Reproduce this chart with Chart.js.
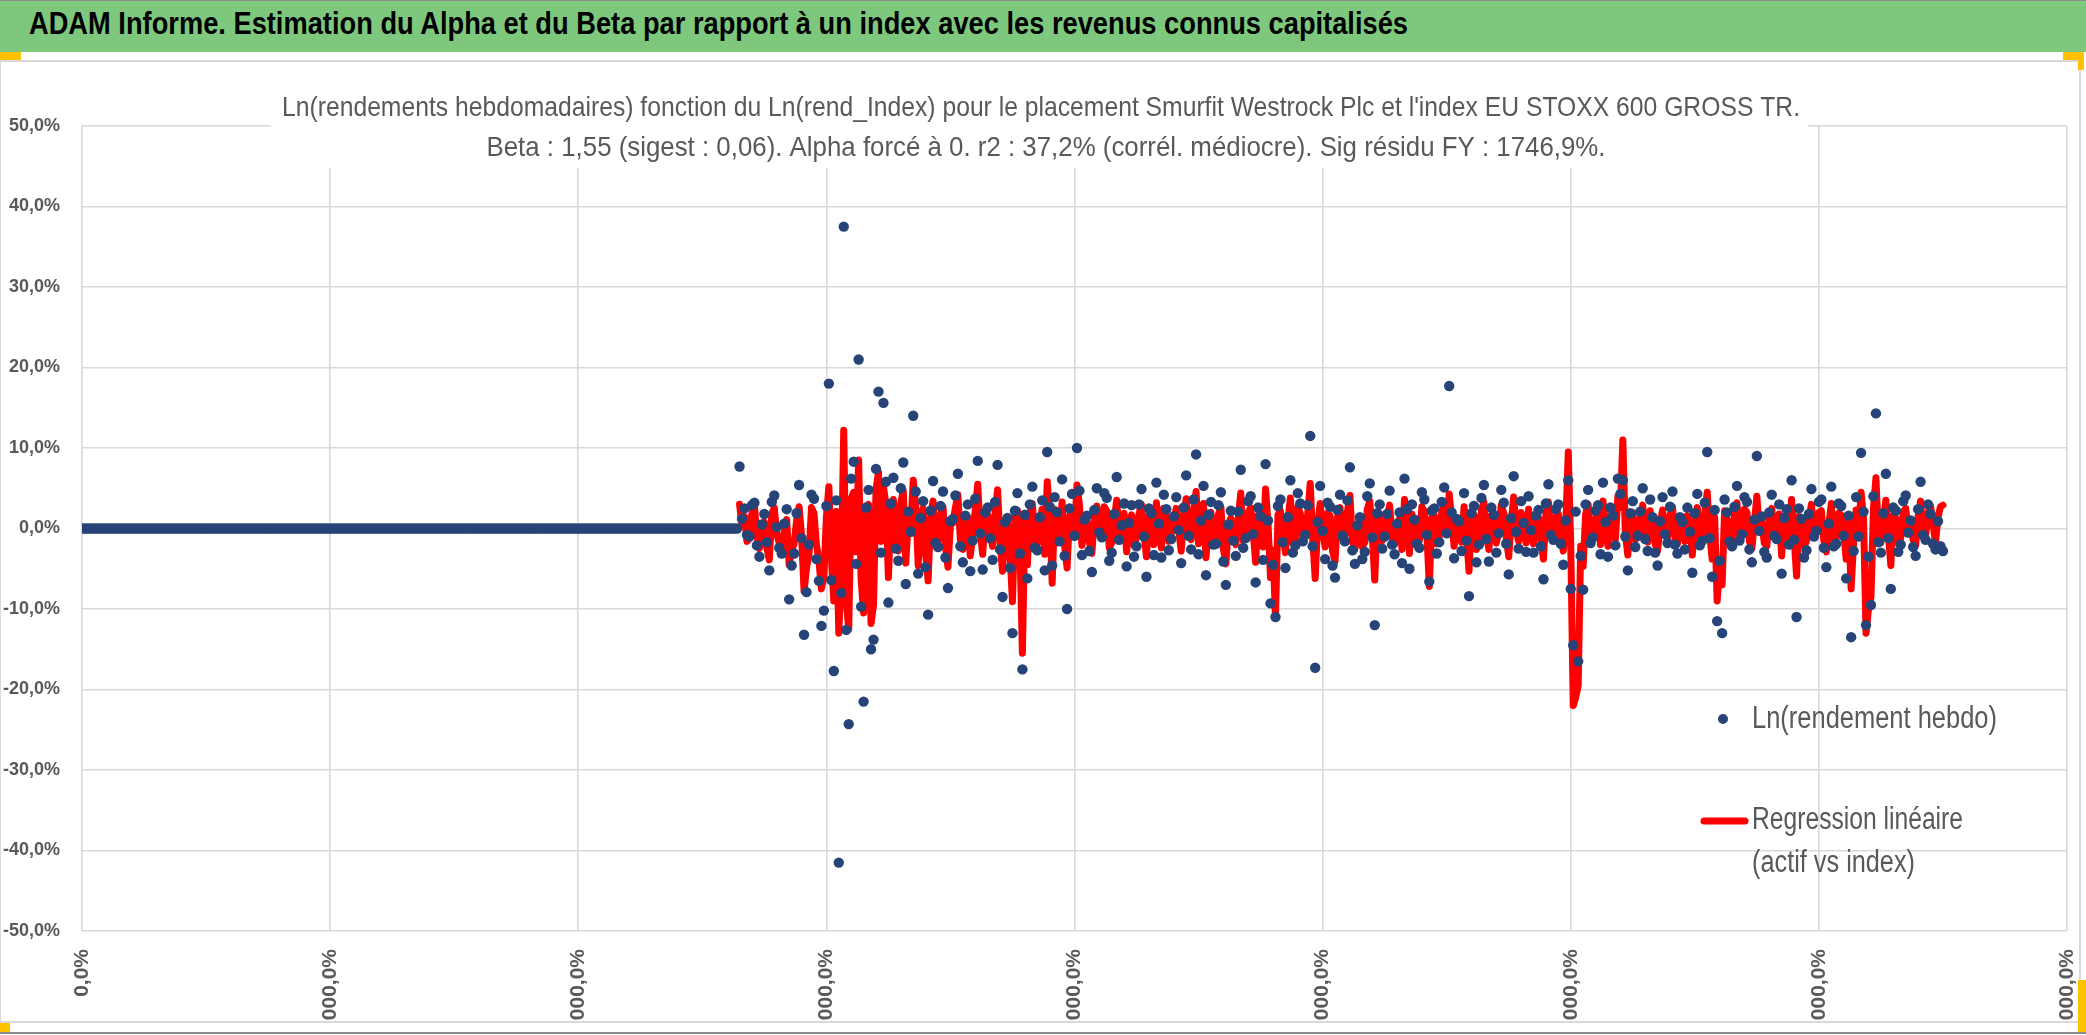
<!DOCTYPE html>
<html>
<head>
<meta charset="utf-8">
<script src="https://cdn.jsdelivr.net/npm/chart.js@4.4.0/dist/chart.umd.min.js"></script>
<style>
html, body { margin: 0; padding: 0; background: #fff; width: 2086px; height: 1035px; overflow: hidden; position: relative; }
#bandeau { position: absolute; left: 0; top: 0; width: 2086px; height: 52px; background: #7dc87d; border-top: 1px solid #8c8c8c; box-sizing: border-box; }
#bandeau span { position: absolute; left: 29px; top: 5px; font: bold 31px "Liberation Sans", sans-serif; color: #000; transform-origin: 0 0; white-space: nowrap; }
#cadre { position: absolute; left: 0; top: 60px; width: 2081px; height: 963px; border: 2px solid #d9d9d9; border-left-width: 1px; box-sizing: border-box; }
#bas { position: absolute; left: 0; top: 1032px; width: 2086px; height: 2px; background: #8c8c8c; }
#graphe { position: absolute; left: 0; top: 62px; }
.poignee { position: absolute; background: #ffc000; }
</style>
</head>
<body>
<div id="bandeau"><span id="titreBandeau">ADAM Informe. Estimation du Alpha et du Beta par rapport à un index avec les revenus connus capitalisés</span></div>
<div id="cadre"></div>
<div id="bas"></div>
<div class="poignee" style="left:0;top:52px;width:21px;height:8px"></div>
<div class="poignee" style="left:2063px;top:52px;width:21px;height:8px"></div>
<div class="poignee" style="left:2078px;top:52px;width:6px;height:18px"></div>
<div class="poignee" style="left:0;top:1023px;width:10px;height:9px"></div>
<div class="poignee" style="left:2078px;top:980px;width:8px;height:52px"></div>
<canvas id="graphe" width="2078" height="958"></canvas>
<script>
// semaines sans cotation (rendement nul)
const semainesVides = [
  0,0,0,0,0,0,0,0,0,0,0,0,0,0,0,0,0,0,0,0,
  0,0,0,0,0,0,0,0,0,0,0,0,0,0,0,0,0,0,0,0,
  0,0,0,0,0,0,0,0,0,0,0,0,0,0,0,0,0,0,0,0,
  0,0,0,0,0,0,0,0,0,0,0,0,0,0,0,0,0,0,0,0,
  0,0,0,0,0,0,0,0,0,0,0,0,0,0,0,0,0,0,0,0,
  0,0,0,0,0,0,0,0,0,0,0,0,0,0,0,0,0,0,0,0,
  0,0,0,0,0,0,0,0,0,0,0,0,0,0,0,0,0,0,0,0,
  0,0,0,0,0,0,0,0,0,0,0,0,0,0,0,0,0,0,0,0,
  0,0,0,0,0,0,0,0,0,0,0,0,0,0,0,0,0,0,0,0,
  0,0,0,0,0,0,0,0,0,0,0,0,0,0,0,0,0,0,0,0,
  0,0,0,0,0,0,0,0,0,0,0,0,0,0,0,0,0,0,0,0,
  0,0,0,0,0,0,0,0,0,0,0,0,0,0,0,0,0,0,0,0,
  0,0,0,0,0,0,0,0,0,0,0,0,0,0,0,0,0,0,0,0,
  0,0,0,0,0
];

// Ln(rendement hebdo) en %
const lnRendement = [
  7.7,1.2, 2.5,-0.8, -1.0,2.9, 3.2,-2.1, -3.5,0.5, 1.8,-1.7, -5.2,3.3, 4.1,0.2, -2.4,-3.1, 0.6,2.4,
  -8.8,-4.6, -3.1,1.9, 5.4,-1.2, -13.2,-7.9, -2.0,4.2, 3.7,-3.8, -6.5,-12.1, -10.2,2.8, 18.0,-6.4, -17.7,3.5,
  -41.5,-8.0, 37.5,-12.6, -24.3,6.2, 8.3,-4.4, 21.0,-9.7, -21.5,2.6, 4.8,-15.0, -13.8,7.4, 17.0,-3.0, 15.6,5.8,
  -9.2,3.1, 6.3,-2.5, -4.0,5.0, 8.2,-6.9, 2.1,-0.4, 14.0,4.6, -5.6,1.3, 3.4,-4.8, -10.7,2.2, 5.9,-1.8,
  -2.3,2.8, 4.6,-3.6, -7.4,0.9, 1.2,4.1, 6.8,-2.2, -4.2,1.6, 3.0,-5.3, -1.5,3.7, 8.4,-0.6, -5.1,2.0,
  2.6,-1.2, -3.9,3.3, 7.9,-2.6, -8.5,0.8, 1.3,-4.9, -13.0,2.2, 4.4,-3.1, -17.5,1.7, -6.2,3.0, 5.2,-2.4,
  -2.7,1.4, 3.5,-5.2, 9.5,2.7, -4.6,3.9, 2.0,-1.6, 6.1,-3.4, -10.0,2.5, 4.3,-0.9, 10.0,4.7, -3.3,1.1,
  1.6,-2.8, -5.4,2.3, 5.0,-0.5, -1.1,4.4, 3.8,-4.0, -3.0,1.8, 6.4,-1.4, 0.4,3.1, -4.7,0.7, 2.9,-3.5,
  -2.2,3.0, 4.9,-1.0, -6.0,2.5, 1.9,-3.3, 5.7,0.6, -3.6,4.2, 2.4,-2.7, -1.3,1.5, 3.9,-0.2, -4.3,2.6,
  6.6,-0.9, -2.6,3.6, 9.2,-3.2, 1.0,5.3, -5.8,1.7, 3.3,-2.0, -1.9,2.9, 4.5,-4.1, -7.0,0.5, 2.2,-1.5,
  -3.4,2.1, 7.3,-2.4, -1.2,3.4, 4.0,-0.7, -6.7,2.6, 1.5,-3.9, 8.0,1.0, -9.3,-4.5, -11.0,2.8, 3.6,-1.7,
  -4.9,1.4, 6.0,-3.0, -2.1,4.4, 3.1,-1.6, -0.8,2.9, 11.5,-2.2, -17.3,0.8, 5.3,-0.3, -3.8,3.2, 2.7,-4.6,
  -6.1,2.3, 4.2,-0.9, -1.6,3.5, 7.6,-2.7, -4.4,0.4, 1.4,-3.8, -2.9,4.0, 5.6,-1.1, -12.0,1.9, 3.0,-2.5,
  -1.0,1.8, 4.7,-2.0, -3.2,0.6, 2.0,-4.3, 6.2,2.4, -5.0,3.0, 1.1,-1.9, -2.4,4.5, 3.6,-0.8, -6.6,2.2,
  2.5,-3.1, -1.7,3.3, 5.1,-0.6, 17.7,2.0, -3.7,1.2, 0.9,-2.8, 4.4,-1.5, -8.4,1.9, 2.8,-4.2, -2.0,3.8,
  5.4,-1.3, -4.1,2.6, 1.7,-3.0, -0.6,4.8, 3.2,-1.9, -5.7,1.3, 6.5,-0.4, -2.5,3.4, 0.7,-2.9, 4.0,-0.2,
  -3.0,1.6, 2.3,-2.2, -6.3,3.1, 5.5,-0.8, -1.4,2.4, 3.0,-1.9, -4.5,1.0, 6.0,-7.5, -14.5,2.1, -16.5,-3.4,
  -7.6,3.0, 4.8,-1.8, -1.1,2.2, 2.9,-3.2, 5.7,0.8, -3.5,2.6, 1.6,-2.1, 6.2,4.3, 6.0,-1.0, -5.2,1.9,
  3.4,-2.3, -0.9,2.1, 5.0,-1.3, -2.8,3.6, 1.4,-3.0, -4.6,0.9, 3.9,-0.7, -1.8,2.7, 4.6,-2.0, -3.1,1.4,
  0.8,-2.6, 2.6,-0.4, -5.5,1.9, 4.3,-2.1, -1.5,3.2, 9.5,-1.2, -6.0,2.3, -11.5,-4.0, -13.0,3.6, 2.0,-1.6,
  -2.2,2.7, 5.3,-1.5, -0.7,3.9, 3.3,-2.6, -4.2,1.1, 9.0,-0.3, 1.5,-2.9, -3.6,2.0, 4.2,-0.9, -1.3,3.0,
  -5.6,1.3, 2.4,-2.0, 6.0,-1.4, -11.0,2.5, 1.2,-3.6, -2.7,1.8, 4.9,-1.0, -0.3,3.3, 3.6,-2.4, -4.8,0.6,
  5.2,-2.2, -1.9,3.1, 2.8,-0.9, -6.2,1.6, -13.5,-2.8, 3.9,-1.0, 9.4,2.1, -12.0,-3.5, -9.5,4.0, 14.3,-1.7,
  -3.0,1.9, 6.8,-1.2, -7.5,2.6, 2.2,-2.9, -2.0,3.4, 4.1,-0.5, 1.0,-2.3, -3.4,2.4, 5.8,-0.8, -1.4,3.0,
  1.8,-1.9, -2.6,0.9, -2.2,-2.8
];

// Regression linéaire (actif vs index) en %
const regression = [
  3.0,0.4, 1.5,-1.6, -1.2,1.9, 2.8,-0.9, -2.5,-0.2, 0.8,-2.4, -3.9,1.8, 2.6,-0.7, -1.8,-2.6, -0.4,1.1,
  -4.5,-2.7, -1.9,1.0, 2.7,-0.8, -7.8,-4.9, -3.2,2.6, 1.9,-2.0, -4.0,-7.5, -6.0,1.4, 5.2,-3.6, -9.0,2.1,
  -13.0,-5.5, 12.2,-8.8, -12.5,3.7, 4.5,-2.9, 8.5,-6.3, -10.5,1.7, 3.0,-11.8, -9.5,4.8, 7.0,-1.6, 5.2,3.0,
  -6.1,1.9, 3.6,-1.5, -2.8,3.2, 4.7,-4.3, 1.0,-0.2, 6.0,2.9, -4.6,0.8, 2.5,-3.0, -6.5,1.3, 3.4,-1.0,
  -1.6,1.7, 2.7,-2.3, -4.8,0.5, 0.7,2.6, 4.2,-1.4, -2.6,1.0, 1.4,-3.4, -0.8,2.3, 5.5,-0.4, -3.2,1.2,
  1.7,-0.7, -2.2,2.0, 4.8,-1.6, -5.3,0.5, 0.9,-3.0, -9.1,1.3, 2.3,-1.9, -15.5,1.0, -4.5,1.8, 3.1,-1.5,
  -1.9,0.8, 2.4,-3.2, 5.8,1.6, -6.8,2.4, 1.2,-1.0, 3.3,-2.1, -4.9,1.5, 2.4,-0.5, 5.4,2.9, -2.1,0.6,
  0.9,-1.7, -3.1,1.4, 2.8,-0.2, -0.5,2.7, 2.2,-2.4, -1.8,1.1, 3.5,-0.8, 0.1,1.9, -2.9,0.4, 1.7,-2.1,
  -1.1,1.8, 3.0,-0.6, -3.5,1.5, 1.1,-2.0, 3.2,0.3, -2.4,2.5, 1.6,-1.6, -0.6,0.9, 2.5,-0.1, -2.8,1.6,
  3.7,-0.5, -1.4,2.2, 4.6,-1.9, 0.5,3.1, -3.6,1.0, 2.0,-1.2, -1.2,1.7, 2.7,-2.5, -4.4,0.3, 1.3,-0.9,
  -2.0,1.3, 4.4,-1.5, -0.7,2.0, 2.6,-0.4, -4.2,1.6, 0.9,-2.3, 4.9,0.6, -6.1,-2.7, -11.0,1.7, 2.2,-1.0,
  -3.0,0.8, 3.8,-1.8, -1.3,2.7, 1.9,-1.0, -0.4,1.8, 5.6,-1.3, -6.2,0.5, 3.1,-0.2, -2.3,1.9, 1.6,-2.8,
  -4.1,1.4, 2.6,-0.5, -0.9,2.1, 4.1,-1.6, -2.6,0.2, 0.8,-2.3, -1.7,2.4, 3.4,-0.7, -6.4,1.2, 1.8,-1.5,
  -0.6,1.1, 2.9,-1.2, -2.0,0.4, 1.2,-2.6, 3.6,1.5, -3.1,1.8, 0.6,-1.1, -1.5,2.7, 2.1,-0.5, -7.2,1.3,
  1.6,-1.9, -1.0,2.0, 3.1,-0.4, 4.3,1.2, -2.2,0.7, 0.5,-1.7, 2.7,-0.9, -5.3,1.1, 1.7,-2.6, -1.2,2.3,
  3.3,-0.8, -2.6,1.6, 1.0,-1.8, -0.3,2.9, 1.9,-1.1, -3.5,0.8, 3.9,-0.2, -1.6,2.0, 0.3,-1.8, 2.4,-0.1,
  -1.9,1.0, 1.4,-1.4, -3.8,1.9, 3.3,-0.5, -0.9,1.5, 1.8,-1.2, -2.8,0.6, 9.5,-2.0, -22.0,-21.0, -19.5,-2.2,
  -4.7,1.8, 3.0,-1.1, -0.6,1.3, 1.7,-2.0, 3.4,0.5, -2.2,1.6, 1.0,-1.3, 4.0,2.6, 11.0,-0.6, -3.3,1.2,
  2.0,-1.4, -0.5,1.3, 2.9,-0.8, -1.7,2.2, 0.8,-1.9, -2.8,0.5, 2.3,-0.4, -1.1,1.6, 2.7,-1.2, -1.9,0.8,
  0.4,-1.6, 1.6,-0.2, -3.3,1.1, 2.6,-1.3, -0.9,1.9, 4.5,-0.7, -3.8,1.4, -9.0,-5.0, -7.0,2.2, 1.2,-1.0,
  -1.4,1.6, 3.2,-0.9, -0.4,2.4, 2.0,-1.6, -2.5,0.7, 4.0,-0.2, 0.9,-1.8, -2.2,1.2, 2.5,-0.5, -0.8,1.8,
  -3.4,0.8, 1.5,-1.2, 3.6,-0.9, -5.9,1.5, 0.7,-2.2, -1.6,1.1, 3.0,-0.6, -0.2,2.0, 2.2,-1.5, -2.9,0.4,
  3.1,-1.3, -1.2,1.9, 1.7,-0.5, -3.8,1.0, -7.5,-1.7, 2.3,-0.6, 4.5,1.3, -13.0,-10.0, -8.5,2.5, 6.3,-1.0,
  -1.8,1.2, 3.5,-0.7, -4.6,1.6, 1.3,-1.8, -1.2,2.1, 2.5,-0.3, 0.6,-1.4, -2.1,1.5, 3.4,-0.5, -0.9,1.9,
  2.8,0.6, -1.8,1.4, 2.7,2.9
];

// axes
const xMax = 800;
const xPas = 100;
const yMin = -50;
const yMax = 50;
const yPas = 10;

const titre1 = "Ln(rendements hebdomadaires) fonction du Ln(rend_Index) pour le placement Smurfit Westrock Plc et l'index EU STOXX 600 GROSS TR.";
const titre2 = "Beta : 1,55 (sigest : 0,06). Alpha forcé à 0. r2 : 37,2% (corrél. médiocre). Sig résidu FY : 1746,9%.";
const legende1 = "Ln(rendement hebdo)";
const legende2a = "Regression linéaire";
const legende2b = "(actif vs index)";

const bleu = '#264478';
const gris = '#595959';
const dy = 62; // haut du canvas dans la page

// titre du bandeau ajusté à la largeur de la capture
let span = document.getElementById('titreBandeau');
span.style.transform = 'scaleX(' + (1379 / span.getBoundingClientRect().width) + ')';

const points = semainesVides.concat(lnRendement).map((v, i) => ({x: i, y: v}));
const droite = regression.map((v, i) => ({x: semainesVides.length + i, y: v}));

function pourcent(v) {
    return v.toFixed(1).replace('.', ',') + '%';
}

function texteAjuste(ctx, txt, x, y, largeur, police, couleur, align) {
    ctx.save();
    ctx.font = police;
    let k = largeur / ctx.measureText(txt).width;
    ctx.translate(x, y);
    ctx.scale(k, 1);
    ctx.fillStyle = couleur;
    ctx.textAlign = align;
    ctx.textBaseline = 'middle';
    ctx.fillText(txt, 0, 0);
    ctx.restore();
}

const habillage = {
    id: 'habillage',
    afterDraw(chart) {
        const ctx = chart.ctx;
        ctx.save();
        // fond blanc du titre
        ctx.fillStyle = '#fff';
        ctx.fillRect(271, 80 - dy, 1808 - 271, 168 - 80);
        const police = '28px "Liberation Sans", sans-serif';
        texteAjuste(ctx, titre1, 1041, 108 - dy, 1518, police, gris, 'center');
        texteAjuste(ctx, titre2, 1046, 148 - dy, 1119, police, gris, 'center');

        // légende
        const policeLeg = '31px "Liberation Sans", sans-serif';
        ctx.fillStyle = bleu;
        ctx.beginPath();
        ctx.arc(1723, 719 - dy, 5, 0, Math.PI * 2);
        ctx.fill();
        texteAjuste(ctx, legende1, 1752, 719 - dy, 245, policeLeg, gris, 'left');

        ctx.strokeStyle = '#ff0000';
        ctx.lineWidth = 7;
        ctx.lineCap = 'round';
        ctx.beginPath();
        ctx.moveTo(1704, 821 - dy);
        ctx.lineTo(1745, 821 - dy);
        ctx.stroke();
        texteAjuste(ctx, legende2a, 1752, 820 - dy, 211, policeLeg, gris, 'left');
        texteAjuste(ctx, legende2b, 1752, 863 - dy, 163, policeLeg, gris, 'left');
        ctx.restore();
    }
};

new Chart(document.getElementById('graphe'), {
    type: 'scatter',
    data: {
        datasets: [
            {
                label: legende1,
                data: points,
                backgroundColor: bleu,
                borderWidth: 0,
                pointRadius: 5.2,
                order: 0
            },
            {
                label: legende2a + ' ' + legende2b,
                data: droite,
                showLine: true,
                borderColor: '#ff0000',
                borderWidth: 7,
                borderCapStyle: 'round',
                borderJoinStyle: 'round',
                pointRadius: 0,
                tension: 0,
                order: 1
            }
        ]
    },
    options: {
        responsive: false,
        animation: false,
        devicePixelRatio: 1,
        layout: { padding: { top: 126 - dy, right: 11, left: 0, bottom: 0 } },
        plugins: { legend: { display: false }, tooltip: { enabled: false } },
        scales: {
            x: {
                type: 'linear',
                min: 0,
                max: xMax,
                border: { display: false },
                grid: { color: '#d9d9d9', lineWidth: 1.6, drawTicks: false },
                ticks: {
                    stepSize: xPas,
                    minRotation: 90,
                    maxRotation: 90,
                    autoSkip: false,
                    padding: 18,
                    color: gris,
                    font: { family: '"Liberation Sans", sans-serif', size: 21, weight: 'bold' },
                    callback: v => pourcent(v * 100)
                },
                afterFit: s => {
                    s.height = 1020 - 931;
                    s.paddingLeft = 0;
                    s.paddingRight = 0;
                }
            },
            y: {
                min: yMin,
                max: yMax,
                border: { display: false },
                grid: { color: '#d9d9d9', lineWidth: 1.6, drawTicks: false },
                ticks: {
                    stepSize: yPas,
                    padding: 22,
                    color: gris,
                    font: { family: '"Liberation Sans", sans-serif', size: 18, weight: 'bold' },
                    callback: v => pourcent(v)
                },
                afterFit: s => {
                    s.width = 82;
                    s.paddingTop = 0;
                    s.paddingBottom = 0;
                }
            }
        }
    },
    plugins: [habillage]
});
</script>
</body>
</html>
